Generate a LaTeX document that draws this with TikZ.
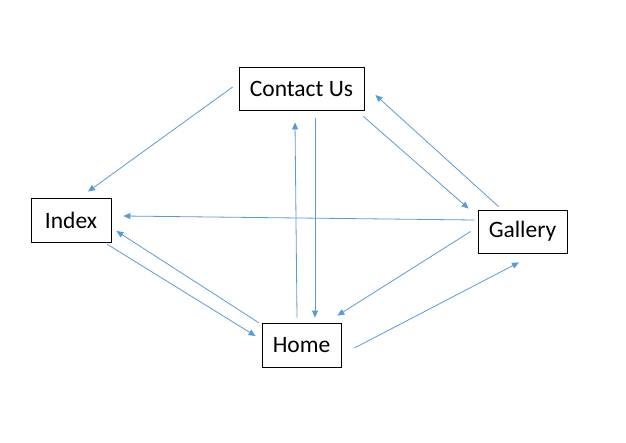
\documentclass[tikz,border=0pt]{standalone}
\usepackage{fontspec}
\setmainfont{Carlito}
\usetikzlibrary{arrows.meta, positioning}

\begin{document}
\begin{tikzpicture}[x=1pt,y=-1pt,
   page/.style={draw,thick,inner sep=0pt,font=\fontsize{23.5}{27}\selectfont},
   link/.style={draw={rgb,255:red,91;green,155;blue,213},line width=0.8pt,
                -{Triangle[length=7pt,width=6pt]}}]
   \useasboundingbox (0,0) rectangle (626,442);
   \node[page,minimum width=125pt,minimum height=43pt] (contact) at (301.5,88.5) {Contact Us};
   \node[page,minimum width=80pt,minimum height=44pt] (index) at (71,220) {Index\hspace{10pt}};
   \node[page,minimum width=89pt,minimum height=43pt] (gallery) at (522.5,231.5) {Gallery};
   \node[page,minimum width=79pt,minimum height=44pt] (home) at (301.5,345) {Home};
   % contact us
   \draw[link] ([shift={(-6pt,1.5pt)}]contact.west) -- ([shift={(17pt,6pt)}]index.north);
   \draw[link] ([shift={(-1pt,-6pt)}]contact.south east) -- ([shift={(-9pt,1pt)}]gallery.north west);
   \draw[link] ([shift={(13.5pt,-8pt)}]contact.south) -- ([shift={(13.5pt,5pt)}]home.north);
   % gallery
   \draw[link] ([shift={(21pt,3pt)}]gallery.north west) -- ([shift={(11pt,-6.5pt)}]contact.east);
   \draw[link] ([shift={(-3pt,11.5pt)}]gallery.west) -- ([shift={(12pt,4pt)}]index.east);
   \draw[link] ([shift={(-7pt,0pt)}]gallery.west) -- ([shift={(-4pt,7pt)}]home.north east);
   % home
   \draw[link] ([shift={(-3pt,0pt)}]home.north west) -- ([shift={(5pt,-11pt)}]index.east);
   \draw[link] ([shift={(-4.5pt,5pt)}]home.north) -- ([shift={(-6.5pt,-12pt)}]contact.south);
   \draw[link] ([shift={(13pt,-3pt)}]home.east) -- ([shift={(-3.5pt,-9pt)}]gallery.south);
   % index
   \draw[link] ([shift={(-4pt,-2pt)}]index.south east) -- ([shift={(-6pt,9pt)}]home.west);
\end{tikzpicture}
\end{document}
